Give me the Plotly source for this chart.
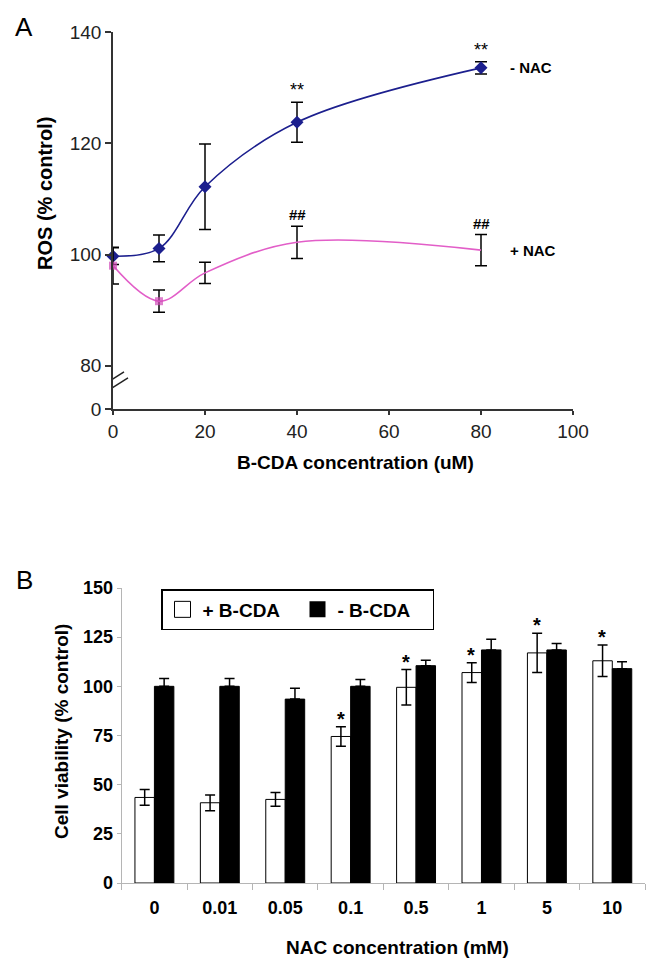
import plotly.graph_objects as go

# ---------------- Panel A data ----------------
bcda_conc = [0, 10, 20, 40, 80]
ros_minus_nac = [99.7, 101.1, 112.2, 123.8, 133.6]
ros_minus_nac_err = [1.5, 2.4, 7.7, 3.6, 1.1]
ros_plus_nac = [98.0, 91.6, 96.7, 102.2, 100.8]
ros_plus_nac_err = [3.3, 2.0, 1.9, 2.9, 2.8]
ros_sig_minus = ["", "", "", "**", "**"]
ros_sig_plus = ["", "", "", "##", "##"]
ros_xticks = [0, 20, 40, 60, 80, 100]
ros_ytick_vals = [72.2, 80, 100, 120, 140]
ros_ytick_text = ["0", "80", "100", "120", "140"]

# ---------------- Panel B data ----------------
nac_labels = ["0", "0.01", "0.05", "0.1", "0.5", "1", "5", "10"]
viab_plus_bcda = [43.5, 40.8, 42.5, 74.5, 99.5, 107.0, 117.0, 113.0]
viab_plus_bcda_err = [4.0, 4.0, 3.5, 5.0, 9.0, 5.0, 10.0, 8.0]
viab_minus_bcda = [100.0, 100.0, 93.5, 100.0, 110.5, 118.5, 118.5, 109.0]
viab_minus_bcda_err = [4.0, 4.0, 5.5, 3.5, 2.7, 5.5, 3.3, 3.5]
viab_sig = ["", "", "", "*", "*", "*", "*", "*"]

FONT = "Liberation Sans, Arial, sans-serif"
W, H = 658, 972
BLUE = "#1c1f8e"
PINK = "#e25ec8"

fig = go.Figure()

# Panel A traces
fig.add_trace(go.Scatter(
    x=bcda_conc, y=ros_minus_nac, mode="lines+markers",
    line=dict(color=BLUE, width=1.6, shape="spline"),
    marker=dict(symbol="diamond", size=10, color=BLUE),
    error_y=dict(type="data", array=ros_minus_nac_err, color="black", thickness=1.5, width=6),
    showlegend=False, cliponaxis=False, xaxis="x", yaxis="y"))
fig.add_trace(go.Scatter(
    x=bcda_conc, y=ros_plus_nac, mode="lines+markers",
    line=dict(color=PINK, width=1.6, shape="spline"),
    marker=dict(symbol="square", size=[8, 8, 0, 0, 0], color="#d04ab8", line=dict(width=0)),
    error_y=dict(type="data", array=ros_plus_nac_err, color="black", thickness=1.5, width=6),
    showlegend=False, cliponaxis=False, xaxis="x", yaxis="y"))

# Panel B traces
fig.add_trace(go.Bar(
    x=nac_labels, y=viab_plus_bcda, name="+ B-CDA",
    marker=dict(color="white", line=dict(color="black", width=1)),
    error_y=dict(type="data", array=viab_plus_bcda_err, color="black", thickness=1.5, width=5),
    showlegend=False, xaxis="x2", yaxis="y2"))
fig.add_trace(go.Bar(
    x=nac_labels, y=viab_minus_bcda, name="- B-CDA",
    marker=dict(color="black", line=dict(color="black", width=1)),
    error_y=dict(type="data", symmetric=False, array=viab_minus_bcda_err,
                 arrayminus=[0] * len(viab_minus_bcda_err),
                 color="black", thickness=1.5, width=5),
    showlegend=False, xaxis="x2", yaxis="y2"))
# legend proxies (bigger swatches)
fig.add_trace(go.Scatter(x=[None], y=[None], mode="markers", name="+ B-CDA",
                         marker=dict(symbol="square", size=22, color="white",
                                     line=dict(color="black", width=1)),
                         xaxis="x2", yaxis="y2"))
fig.add_trace(go.Scatter(x=[None], y=[None], mode="markers", name="- B-CDA",
                         marker=dict(symbol="square", size=22, color="black"),
                         xaxis="x2", yaxis="y2"))

ann = []
# significance marks panel A
for xv, yv, ev, s in zip(bcda_conc, ros_minus_nac, ros_minus_nac_err, ros_sig_minus):
    if s:
        ann.append(dict(x=xv, y=yv + ev, xref="x", yref="y", text=s, showarrow=False,
                        yanchor="bottom", yshift=0, font=dict(family=FONT, size=18, color="black")))
for xv, yv, ev, s in zip(bcda_conc, ros_plus_nac, ros_plus_nac_err, ros_sig_plus):
    if s:
        ann.append(dict(x=xv, y=yv + ev, xref="x", yref="y", text="<b>" + s + "</b>", showarrow=False,
                        yanchor="bottom", yshift=1, font=dict(family=FONT, size=15, color="black")))
ann.append(dict(x=bcda_conc[-1], y=ros_minus_nac[-1], xref="x", yref="y", text="<b>- NAC</b>",
                showarrow=False, xanchor="left", xshift=27, font=dict(family=FONT, size=15, color="black")))
ann.append(dict(x=bcda_conc[-1], y=ros_plus_nac[-1], xref="x", yref="y", text="<b>+ NAC</b>",
                showarrow=False, xanchor="left", xshift=27, font=dict(family=FONT, size=15, color="black")))
# significance marks panel B (category index positions)
for i, (yv, ev, s) in enumerate(zip(viab_plus_bcda, viab_plus_bcda_err, viab_sig)):
    if s:
        ann.append(dict(x=i, y=yv + ev, xref="x2", yref="y2", text="<b>" + s + "</b>", showarrow=False,
                        yanchor="bottom", xshift=-10, yshift=-5, font=dict(family=FONT, size=20, color="black")))

# panel labels and axis titles
def paper_text(px, py, text, size, angle=0):
    return dict(x=px / W, y=1 - py / H, xref="paper", yref="paper", text=text, showarrow=False,
                xanchor="center", yanchor="middle", textangle=angle,
                font=dict(family=FONT, size=size, color="black"))

ann += [
    paper_text(24, 27, "A", 26),
    paper_text(24, 580, "B", 26),
    paper_text(45, 194, "<b>ROS (% control)</b>", 20, -90),
    paper_text(355, 463, "<b>B-CDA concentration (uM)</b>", 19),
    paper_text(61, 732, "<b>Cell viability (% control)</b>", 19, -90),
    paper_text(397, 947, "<b>NAC concentration (mM)</b>", 19),
]

# axis break on panel A y-axis
brk_y = 76.9
shapes = [
    dict(type="rect", xref="x", yref="y", xsizemode="pixel", ysizemode="pixel",
         xanchor=0, yanchor=brk_y, x0=-4, x1=4, y0=-4, y1=4,
         fillcolor="white", line=dict(width=0), layer="above"),
    dict(type="line", xref="x", yref="y", xsizemode="pixel", ysizemode="pixel",
         xanchor=0, yanchor=brk_y, x0=-12, y0=4 - 12 * 0.63, x1=11, y1=4 + 11 * 0.63,
         line=dict(color="#222", width=1.5), layer="above"),
    dict(type="line", xref="x", yref="y", xsizemode="pixel", ysizemode="pixel",
         xanchor=0, yanchor=brk_y, x0=-8, y0=-4.5 - 8 * 0.63, x1=15, y1=-4.5 + 15 * 0.63,
         line=dict(color="#222", width=1.5), layer="above"),
]

fig.update_layout(
    template="none",
    width=W, height=H, margin=dict(l=0, r=0, t=0, b=0, autoexpand=False),
    paper_bgcolor="white", plot_bgcolor="white",
    font=dict(family=FONT, color="black"),
    barmode="group", bargap=0.405, bargroupgap=0,
    annotations=ann, shapes=shapes,
    legend=dict(orientation="h", x=161 / W, y=1 - 589 / H, xanchor="left", yanchor="top",
                bordercolor="black", borderwidth=1.5, bgcolor="white",
                font=dict(family=FONT, size=19, color="black", weight="bold"),
                itemsizing="trace", entrywidth=90, entrywidthmode="pixels"),
    xaxis=dict(domain=[113 / W, 573 / W], range=[0, 100], tickvals=ros_xticks,
               showline=True, linecolor="#333", linewidth=1.5, ticks="outside", ticklen=4,
               tickcolor="#333", tickwidth=1.5, showgrid=False, zeroline=False, automargin=False,
               tickfont=dict(family=FONT, size=19, color="#222"), anchor="y"),
    yaxis=dict(domain=[1 - 409 / H, 1 - 32.3 / H], range=[72.2, 140],
               tickvals=ros_ytick_vals, ticktext=ros_ytick_text,
               showline=True, linecolor="#333", linewidth=1.5, ticks="outside", ticklen=6,
               tickcolor="#333", tickwidth=1.5, showgrid=False, zeroline=False, automargin=False,
               tickfont=dict(family=FONT, size=19, color="#222"), anchor="x"),
    xaxis2=dict(domain=[121.7 / W, 645 / W], range=[-0.5, 7.5], type="category",
                showline=True, linecolor="#b5b5b5", linewidth=1, ticks="outside", ticklen=6,
                tickcolor="#b5b5b5", tickson="boundaries", showgrid=False, zeroline=False,
                ticklabelstandoff=8, automargin=False,
                tickfont=dict(family=FONT, size=18, color="black", weight="bold"), anchor="y2"),
    yaxis2=dict(domain=[1 - 883 / H, 1 - 588 / H], range=[0, 150], dtick=25,
                showline=True, linecolor="#b5b5b5", linewidth=1, ticks="outside", ticklen=4,
                tickcolor="#b5b5b5", showgrid=False, zeroline=False, automargin=False,
                tickfont=dict(family=FONT, size=18, color="black", weight="bold"), anchor="x2"),
)

fig.write_html("out.html", config={"displayModeBar": False},
               post_script="document.body.style.margin='0';document.body.style.overflow='hidden';")
